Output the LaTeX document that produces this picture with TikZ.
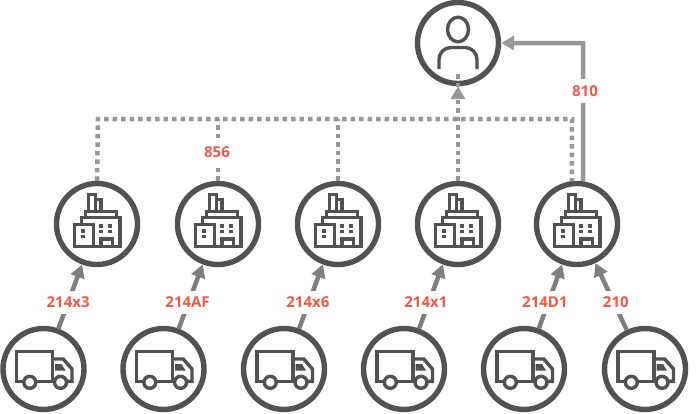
\documentclass[tikz,border=0pt]{standalone}
\usepackage{fontspec}
\setmainfont{Open Sans}
\usetikzlibrary{arrows.meta}
\definecolor{ringgray}{HTML}{525254}
\definecolor{feedgray}{HTML}{7F7F7F}
\definecolor{busgray}{HTML}{999798}
\definecolor{ratered}{HTML}{F15A46}

\begin{document}
\begin{tikzpicture}[
  x=1pt,y=-1pt,
  >={Triangle[length=13pt,width=14pt]},
  disc/.style={circle,draw=ringgray,line width=5.4pt,fill=white,
               minimum size=81pt,inner sep=0pt},
  glyph/.style={draw=ringgray,line width=3.4pt,line join=miter},
  feed/.style={->,draw=feedgray,line width=4.5pt},
  uplink/.style={->,draw=busgray,line width=4.5pt},
  bus/.style={draw=busgray,line width=4.5pt,dash pattern=on 4.5pt off 4pt},
  rate/.style={fill=white,text=ratered,font=\fontsize{15}{15}\selectfont\bfseries,
               inner xsep=1pt,inner ysep=6pt},
  fabicon/.pic={
    \draw[glyph] (-22.3,0.3) rectangle (-3.3,22.7);
    \draw[glyph] (-15.3,0.3) -- (-15.3,-6.3) -- (23,-6.3) -- (23,22.7) -- (-3.3,22.7);
    \draw[glyph] (-11.7,-6.3) -- (-11.7,-12.7) -- (19.7,-12.7) -- (19.7,-6.3);
    \draw[glyph] (-8.7,-12.7) -- (-8.7,-29.7) -- (-1.7,-29.7) -- (-1.7,-12.7);
    \draw[glyph] (-1.7,-24.7) -- (4,-24.7) -- (4,-12.7);
    \draw[glyph] (4,22.7) -- (4,15) -- (15.7,15) -- (15.7,22.7);
    \foreach \wx/\wy in {-14/7,-14/12.5,4/2,13/2,4/7.5,13/7.5}
      \fill[ringgray] (\wx-1.6,\wy-1.6) rectangle (\wx+1.6,\wy+1.6);
  },
  truckicon/.pic={
    \draw[glyph] (-20,12.3) -- (-27,12.3) -- (-27,-17.7) -- (9,-17.7) -- (9,12.3) -- (11,12.3);
    \draw[glyph] (-7.5,12.3) -- (9,12.3);
    \draw[glyph] (9,-10) -- (19.7,-10) -- (28.5,0) -- (28.5,12.3) -- (23,12.3);
    \draw[glyph] (-13.7,13.3) circle (6);
    \draw[glyph] (17,13.3) circle (6);
    \fill[ringgray] (11.5,-5) -- (18,-5) -- (22,1.5) -- (11.5,1.5) -- cycle;
  },
  usericon/.pic={
    \draw[glyph] (0,-13.5) ellipse (10.5 and 12.3);
    \draw[glyph,line cap=butt] (-19,26) -- (-19,16.5) arc[start angle=180,end angle=270,radius=12]
      -- (7,4.5) arc[start angle=270,end angle=360,radius=12] -- (19,26);
  }
]
\useasboundingbox (0,0) rectangle (700,413);

\node[disc] (user) at (458,43) {};
\pic at (user) {usericon};

\foreach \n/\x in {1/97,2/218,3/338,4/458,5/577}
  {
    \node[disc] (fab\n) at (\x,224) {};
    \pic at (fab\n) {fabicon};
  }
\foreach \n/\x in {1/43.5,2/163.5,3/284,4/404,5/524,6/645}
  {
    \node[disc] (truck\n) at (\x,369) {};
    \pic at (truck\n) {truckicon};
  }

\coordinate (busleft) at (98,119);
\coordinate (busright) at (572,119);
\coordinate (corner) at (583,43);

\draw[bus] (fab1.north) -- (busleft) -- (busright) -- (fab5.97);
\draw[bus] (fab2.north) -- (fab2.north |- busleft);
\draw[bus] (fab3.north) -- (fab3.north |- busleft);
\draw[bus] (fab4.north) -- ([yshift=13pt]user.south);
\draw[uplink,dash pattern=on 0pt off 1000pt] (fab4.north) -- (user.south);
\draw[uplink] (fab5.82) -- (corner) -- (user.east);

\foreach \t/\f/\ratelabel/\nudge in {1/1/214x3/0,2/2/214AF/-1,3/3/214x6/-1,4/4/214x1/-3,5/5/214D1/-3.5,6/5/210/2}
  \draw[feed] (truck\t) -- node[rate,pos=0.41,xshift=\nudge pt] (rate\t) {\ratelabel} (fab\f);

\node[rate] (rate856) at (217,152) {856};
\node[rate] (rate810) at (585,91) {810};
\end{tikzpicture}
\end{document}
